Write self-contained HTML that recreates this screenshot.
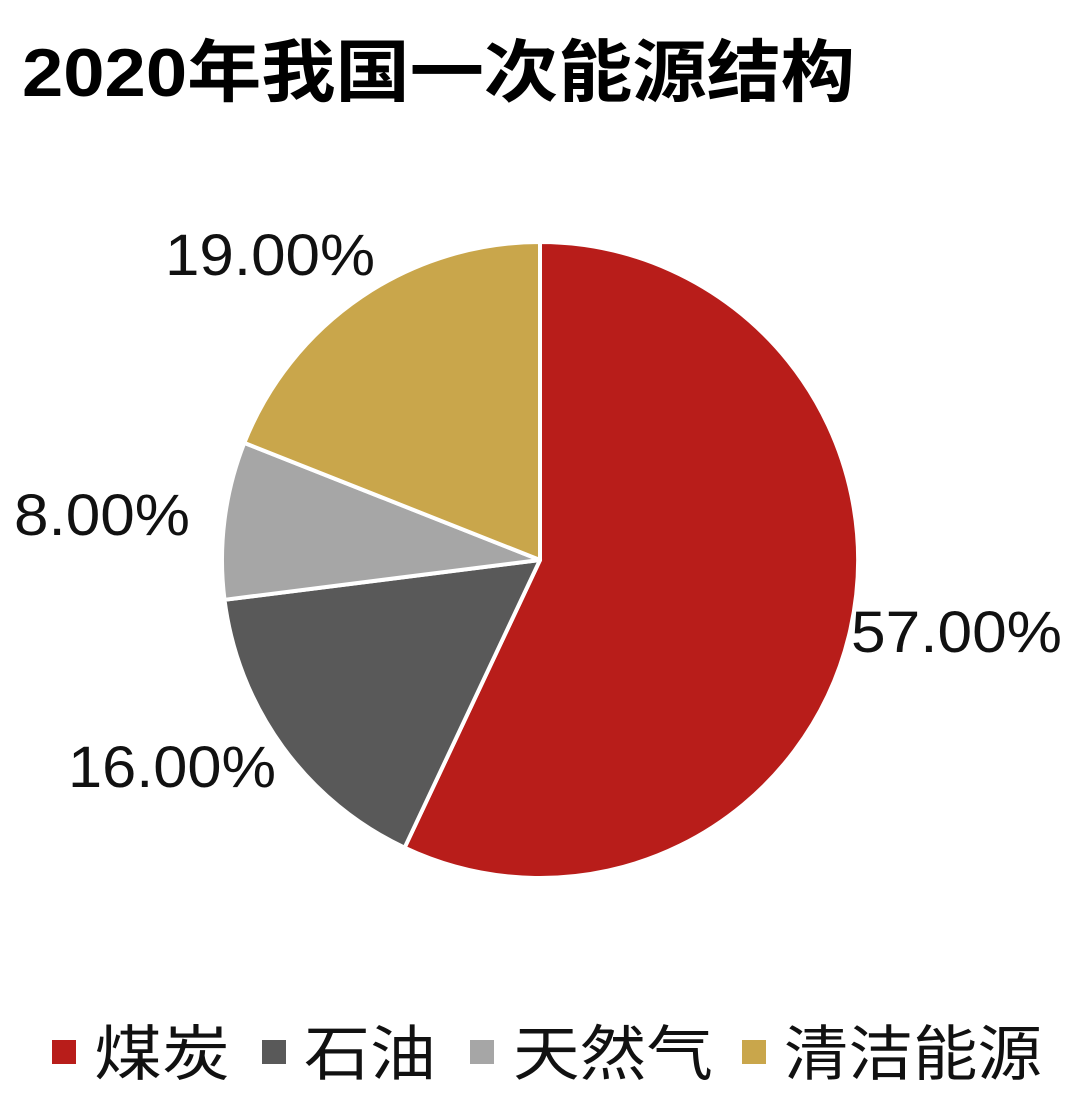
<!DOCTYPE html>
<html><head><meta charset="utf-8"><style>
html,body{margin:0;padding:0;background:#fff;}
body{width:1080px;height:1090px;overflow:hidden;}
</style></head><body>
<svg width="1080" height="1090" viewBox="0 0 1080 1090" xmlns="http://www.w3.org/2000/svg" font-family="'Liberation Sans','Noto Sans CJK SC',sans-serif">
<text x="22" y="96" font-size="68" font-weight="bold" fill="#000" textLength="833" lengthAdjust="spacingAndGlyphs">2020年我国一次能源结构</text>
<g stroke="#fff" stroke-width="4" stroke-linejoin="round">
<path d="M540,560 L540,242 A318,318 0 1 1 404.6,847.7 Z" fill="#B81D1A"/>
<path d="M540,560 L404.6,847.7 A318,318 0 0 1 224.5,599.8 Z" fill="#595959"/>
<path d="M540,560 L224.5,599.8 A318,318 0 0 1 244.3,442.9 Z" fill="#A6A6A6"/>
<path d="M540,560 L244.3,442.9 A318,318 0 0 1 540,242 Z" fill="#C9A64B"/>
</g>
<g font-size="58" fill="#111" lengthAdjust="spacingAndGlyphs">
<text x="165" y="275" textLength="210" lengthAdjust="spacingAndGlyphs">19.00%</text>
<text x="14" y="535" textLength="176" lengthAdjust="spacingAndGlyphs">8.00%</text>
<text x="851" y="652" textLength="211" lengthAdjust="spacingAndGlyphs">57.00%</text>
<text x="68" y="787" textLength="208" lengthAdjust="spacingAndGlyphs">16.00%</text>
</g>
<g font-size="60" fill="#111">
<rect x="52" y="1040" width="24" height="24" fill="#B81D1A"/>
<text x="94" y="1075" textLength="136" lengthAdjust="spacingAndGlyphs">煤炭</text>
<rect x="262" y="1040" width="24" height="24" fill="#595959"/>
<text x="304" y="1075" textLength="132" lengthAdjust="spacingAndGlyphs">石油</text>
<rect x="470" y="1040" width="24" height="24" fill="#A6A6A6"/>
<text x="513" y="1075" textLength="200" lengthAdjust="spacingAndGlyphs">天然气</text>
<rect x="742" y="1040" width="24" height="24" fill="#C9A64B"/>
<text x="784" y="1075" textLength="258" lengthAdjust="spacingAndGlyphs">清洁能源</text>
</g>
</svg>
</body></html>
